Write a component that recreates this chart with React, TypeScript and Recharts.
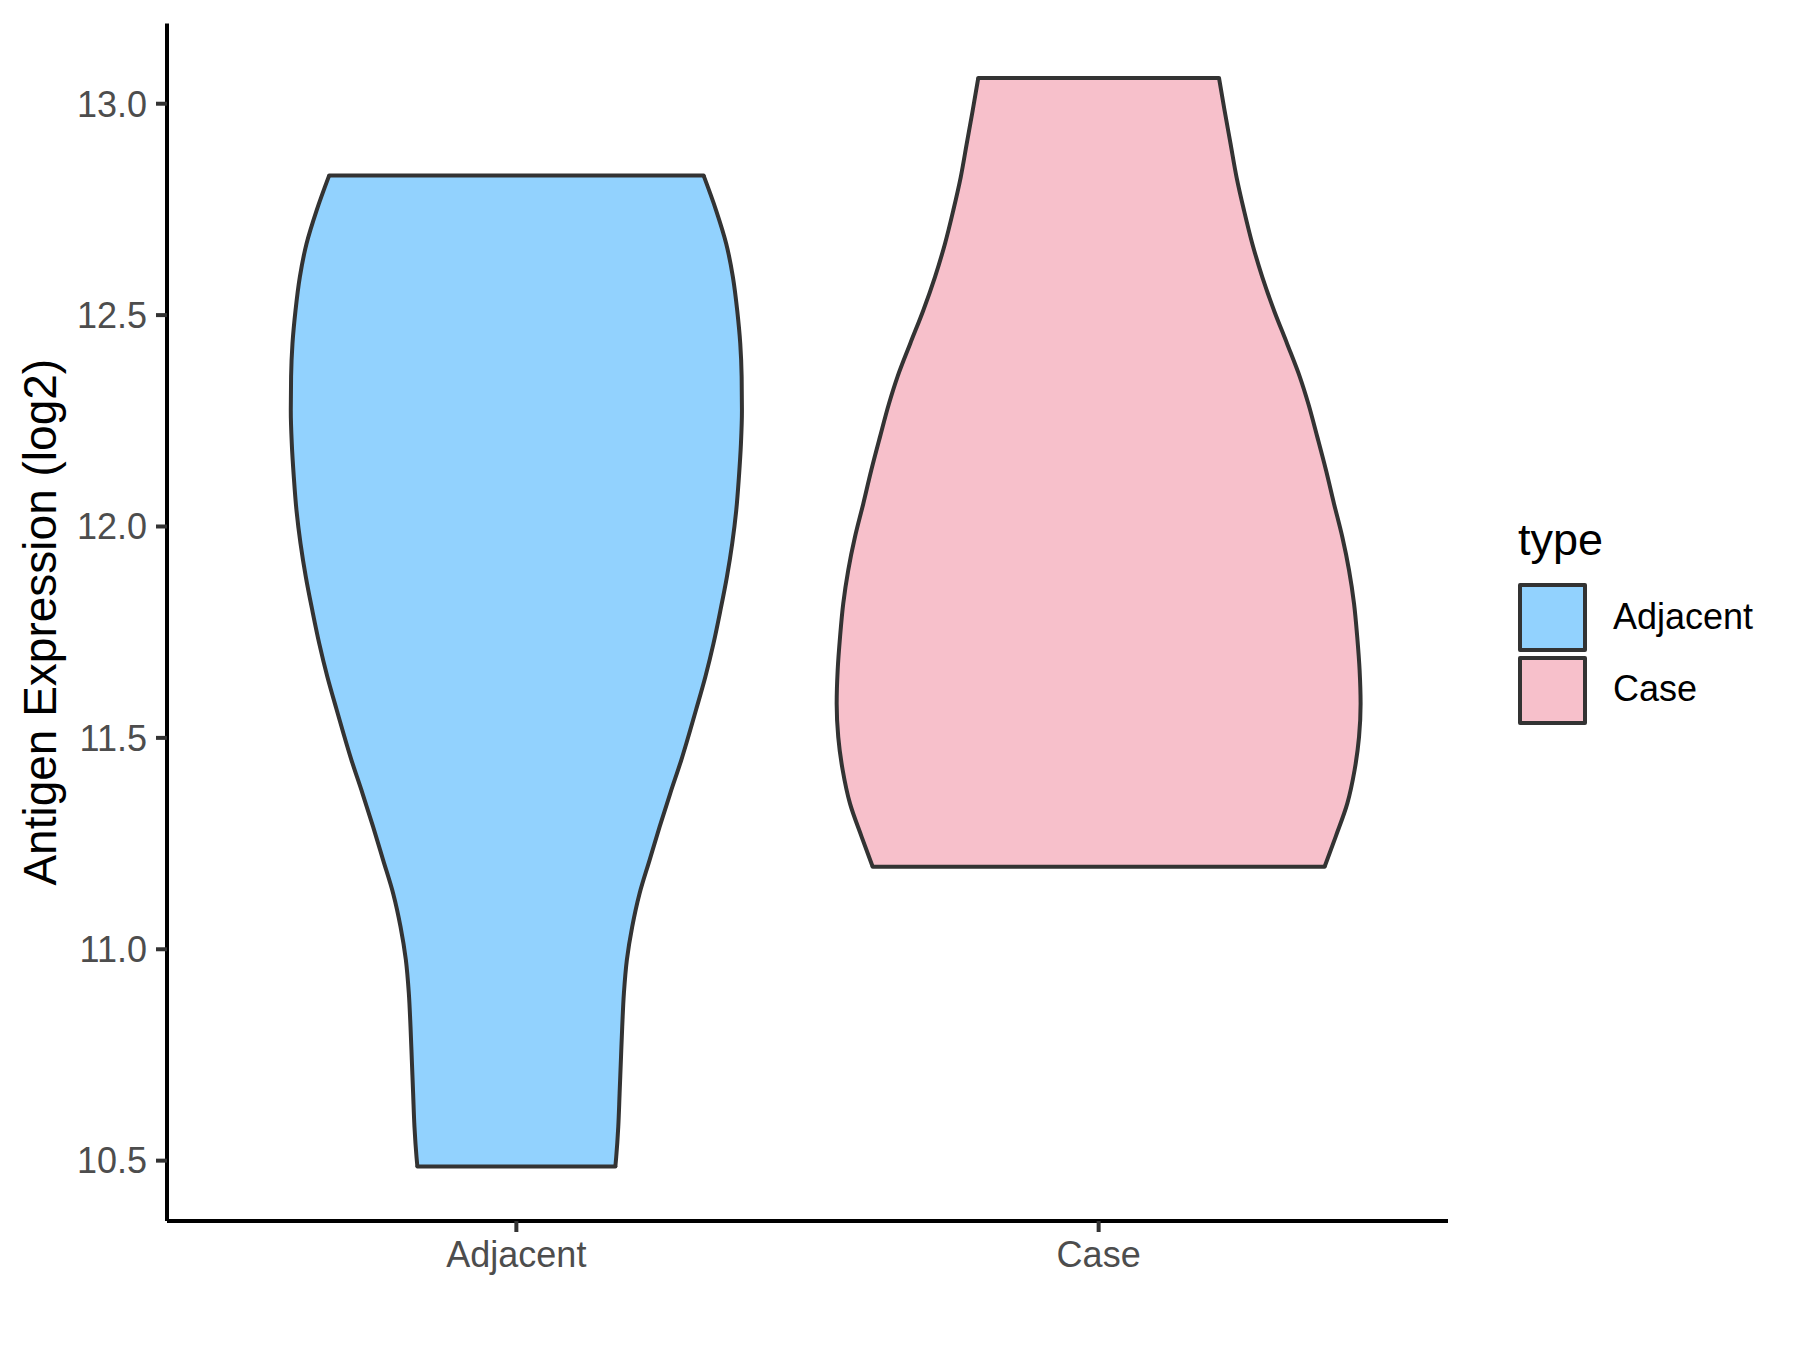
import { ComposedChart, Area, XAxis, YAxis, ReferenceLine, Legend } from 'recharts';

const FONT = '"Liberation Sans", Arial, Helvetica, sans-serif';

const groups = ['Adjacent', 'Case'];
const groupFills = ['#92D2FE', '#F7C0CB'];

// violin outlines: expression level and half width (in category units)
const adjacentLevels = [
  10.486, 10.509, 10.58, 10.659, 10.737, 10.817, 10.896, 10.975, 11.053, 11.132, 11.211, 11.29, 11.369,
  11.447, 11.566, 11.644, 11.723, 11.802, 11.881, 11.96, 12.038, 12.117, 12.196, 12.275, 12.354, 12.433,
  12.511, 12.59, 12.669, 12.748, 12.83,
];
const adjacentHalfWidth = [
  0.17, 0.1715, 0.175, 0.1773, 0.1795, 0.1818, 0.1847, 0.1898, 0.1989, 0.2116, 0.2288, 0.2461, 0.2643,
  0.2831, 0.3085, 0.3245, 0.3385, 0.3505, 0.3616, 0.3707, 0.3776, 0.3822, 0.3857, 0.3874, 0.3869, 0.3845,
  0.3793, 0.3719, 0.3604, 0.343, 0.3216,
];

const caseLevels = [
  11.195, 11.266, 11.345, 11.424, 11.502, 11.581, 11.66, 11.739, 11.818, 11.897, 11.975, 12.054, 12.133,
  12.212, 12.291, 12.354, 12.433, 12.511, 12.59, 12.669, 12.748, 12.826, 12.905, 12.984, 13.061,
];
const caseHalfWidth = [
  0.388, 0.407, 0.4271, 0.4396, 0.4472, 0.4499, 0.4482, 0.4441, 0.4386, 0.43, 0.4185, 0.4042, 0.3905,
  0.3755, 0.36, 0.3455, 0.3235, 0.3012, 0.2811, 0.2639, 0.2496, 0.2369, 0.2266, 0.2163, 0.2067,
];

const yTicks = [10.5, 11, 11.5, 12, 12.5, 13];

const outlines = [
  { key: 'adjacent', center: 1, levels: adjacentLevels, half: adjacentHalfWidth },
  { key: 'case', center: 2, levels: caseLevels, half: caseHalfWidth },
];

// one row per level, sorted from top to bottom
const allLevels = Array.from(new Set([...adjacentLevels, ...caseLevels])).sort((a, b) => b - a);
const rows = allLevels.map((y) => {
  const row: any = { y };
  outlines.forEach((o) => {
    const i = o.levels.indexOf(y);
    row[o.key] = i >= 0 ? [o.center - o.half[i], o.center + o.half[i]] : [null, null];
  });
  return row;
});

const lo = Math.min(...adjacentLevels, ...caseLevels);
const hi = Math.max(...adjacentLevels, ...caseLevels);
const pad = (hi - lo) * 0.05;

const renderLegend = () => (
  <div style={{ position: 'absolute', left: 0, top: 0, fontFamily: FONT }}>
    <div style={{ position: 'absolute', left: 1518, top: 517, fontSize: 45, lineHeight: '45px', color: '#000', whiteSpace: 'nowrap' }}>type</div>
    {groups.map((g, i) => (
      <div key={g}>
        <div
          style={{
            position: 'absolute',
            left: 1518,
            top: 583 + i * 72.5,
            width: 69,
            height: 69,
            boxSizing: 'border-box',
            border: '4px solid #333333',
            borderRadius: 2,
            background: groupFills[i],
          }}
        />
        <div style={{ position: 'absolute', left: 1613, top: 599 + i * 72, fontSize: 36, lineHeight: '36px', color: '#000', whiteSpace: 'nowrap' }}>{g}</div>
      </div>
    ))}
  </div>
);

export default function App() {
  return (
    <>
      <style>{'body{margin:0;background:#fff}'}</style>
      <ComposedChart
        width={1800}
        height={1350}
        data={rows}
        layout="vertical"
        margin={{ top: 23.5, right: 352, bottom: 0, left: 0 }}
      >
        <XAxis
          type="number"
          domain={[0.4, 2.6]}
          allowDataOverflow
          ticks={[1, 2]}
          interval={0}
          tickFormatter={(v: number) => groups[v - 1]}
          height={129}
          axisLine={{ stroke: '#000', strokeWidth: 4 }}
          tickLine={{ stroke: '#333333', strokeWidth: 4 }}
          tickSize={11}
          tickMargin={9}
          tick={{ fill: '#4D4D4D', fontSize: 36, fontFamily: FONT }}
        />
        <YAxis
          type="number"
          dataKey="y"
          reversed
          domain={[lo - pad, hi + pad]}
          allowDataOverflow
          ticks={yTicks}
          interval={0}
          tickFormatter={(v: number) => v.toFixed(1)}
          width={167}
          axisLine={{ stroke: '#000', strokeWidth: 4 }}
          tickLine={{ stroke: '#333333', strokeWidth: 4 }}
          tickSize={11}
          tickMargin={9}
          tick={{ fill: '#4D4D4D', fontSize: 36, fontFamily: FONT }}
          label={{
            value: 'Antigen Expression (log2)',
            angle: -90,
            position: 'insideLeft',
            offset: 40,
            style: { textAnchor: 'middle', fill: '#000', fontSize: 46, fontFamily: FONT },
          }}
        />
        {outlines.map((o, i) => (
          <Area
            key={o.key}
            name={groups[i]}
            dataKey={o.key}
            type="monotone"
            fill={groupFills[i]}
            fillOpacity={1}
            stroke="#333333"
            strokeWidth={4}
            connectNulls
            dot={false}
            activeDot={false}
            isAnimationActive={false}
          />
        ))}
        {outlines.map((o) => {
          const n = o.levels.length - 1;
          return [
            <ReferenceLine
              key={o.key + '-bottom'}
              segment={[
                { x: o.center - o.half[0], y: o.levels[0] },
                { x: o.center + o.half[0], y: o.levels[0] },
              ]}
              stroke="#333333"
              strokeWidth={4}
              strokeLinecap="round"
            />,
            <ReferenceLine
              key={o.key + '-top'}
              segment={[
                { x: o.center - o.half[n], y: o.levels[n] },
                { x: o.center + o.half[n], y: o.levels[n] },
              ]}
              stroke="#333333"
              strokeWidth={4}
              strokeLinecap="round"
            />,
          ];
        })}
        <Legend
          content={renderLegend}
          wrapperStyle={{ position: 'absolute', left: 0, top: 0, width: 0, height: 0, overflow: 'visible' }}
        />
      </ComposedChart>
    </>
  );
}
